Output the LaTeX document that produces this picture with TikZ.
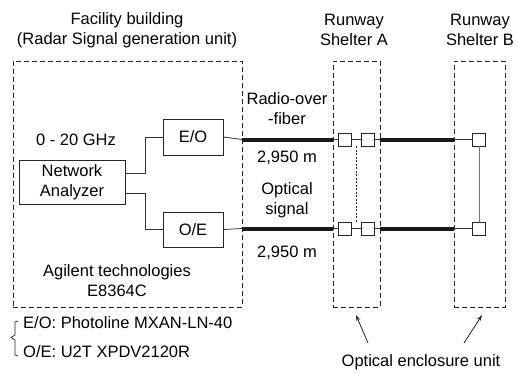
\documentclass[tikz,border=0pt]{standalone}
\usepackage{fontspec}
\setmainfont{Liberation Sans}
\usetikzlibrary{arrows.meta}
\begin{document}
\begin{tikzpicture}[x=1pt,y=-1pt,
  every node/.style={font=\fontsize{16.5}{20}\selectfont, inner sep=0pt, align=center},
  region/.style={draw=black!85, dash pattern=on 5pt off 3pt, line width=0.8pt},
  unit/.style={draw=black!85, line width=0.8pt, fill=white},
  conn/.style={draw=black!80, line width=0.8pt},
  fiber/.style={draw=black!90, line width=4pt},
  tiny/.style={draw=black!85, line width=0.8pt, fill=white, minimum size=13pt},
  arr/.style={draw=black!85, line width=0.8pt, -{Stealth[length=6pt,width=4pt]}}]
\useasboundingbox (0,0) rectangle (517,373);
% regions
\node[region, minimum width=229pt, minimum height=246pt] (fac) at (127.5,184) {};
\node[region, minimum width=47pt, minimum height=246pt] (sha) at (356.5,184) {};
\node[region, minimum width=51pt, minimum height=246pt] (shb) at (479.5,184) {};
% titles
\node (factitle) at (127,30) {Facility building\\(Radar Signal generation unit)};
\node (shatitle) at (354,30) {Runway\\Shelter A};
\node (shbtitle) at (480,30) {Runway\\Shelter B};
% facility contents
\node[unit, minimum width=106pt, minimum height=44pt] (na) at (72,182) {Network\\Analyzer};
\node[unit, minimum width=60pt, minimum height=36pt] (eo) at (193,137) {E/O};
\node[unit, minimum width=60pt, minimum height=35pt] (oe) at (193,229.5) {O/E};
\node (ghz) at (76,140) {0 - 20 GHz};
\node (agil) at (117,281) {Agilent technologies\\E8364C};
\coordinate (naA) at (125,173);
\coordinate (naB) at (125,193);
\draw[conn] (naA) -| (145,137) -- (eo.west);
\draw[conn] (naB) -| (145,229.5) -- (oe.west);
% small units
\node[tiny] (a1) at (344.5,139.5) {};
\node[tiny] (a2) at (368,139.5) {};
\node[tiny] (b1) at (479,139.5) {};
\node[tiny] (a3) at (344.5,228.5) {};
\node[tiny] (a4) at (368,228.5) {};
\node[tiny] (b2) at (479,228.5) {};
% fiber lines
\coordinate (fT1) at (242,139.5);
\coordinate (fT2) at (333,139.5);
\coordinate (fT3) at (380,139.5);
\coordinate (fT4) at (454,139.5);
\coordinate (fB1) at (242,228.5);
\coordinate (fB2) at (333,228.5);
\coordinate (fB3) at (380,228.5);
\coordinate (fB4) at (454,228.5);
\draw[conn] (eo.east) -- (fT1);
\draw[fiber] (fT1) -- (fT2);
\draw[conn] (fT2) -- (a1.west);
\draw[conn] (a1.east) -- (a2.west);
\draw[conn] (a2.east) -- (fT3);
\draw[fiber] (fT3) -- (fT4);
\draw[conn] (fT4) -- (b1.west);
\draw[conn] (oe.east) -- (fB1);
\draw[fiber] (fB1) -- (fB2);
\draw[conn] (fB2) -- (a3.west);
\draw[conn] (a3.east) -- (a4.west);
\draw[conn] (a4.east) -- (fB3);
\draw[fiber] (fB3) -- (fB4);
\draw[conn] (fB4) -- (b2.west);
% loops
\draw[draw=black!85, line width=0.8pt, dash pattern=on 2pt off 1.5pt] (356,146) coordinate (dA) -- (356,222) coordinate (dB);
\draw[draw=black!55, line width=0.9pt] (b1.south) -- (b2.north);
% fiber labels
\node (rof) at (287,109) {Radio-over\\-fiber};
\node (d1) at (287,158) {2,950 m};
\node (opt) at (287,200) {Optical\\signal};
\node (d2) at (287,253) {2,950 m};
% legend
\draw[draw=black!85, line width=0.7pt] (18,321) -- (15,322) -- (15,335) -- (11,337.5) -- (15,340) -- (15,355) -- (18,356);
\node[anchor=west] (leg1) at (23,323) {E/O: Photoline MXAN-LN-40};
\node[anchor=west] (leg2) at (23,352) {O/E: U2T XPDV2120R};
% enclosure label
\node (enc) at (421,362) {Optical enclosure unit};
\coordinate (ar1s) at (368,343);
\coordinate (ar1e) at (356,315);
\coordinate (ar2s) at (464,343);
\coordinate (ar2e) at (482,315);
\draw[arr] (ar1s) -- (ar1e);
\draw[arr] (ar2s) -- (ar2e);
\end{tikzpicture}
\end{document}
